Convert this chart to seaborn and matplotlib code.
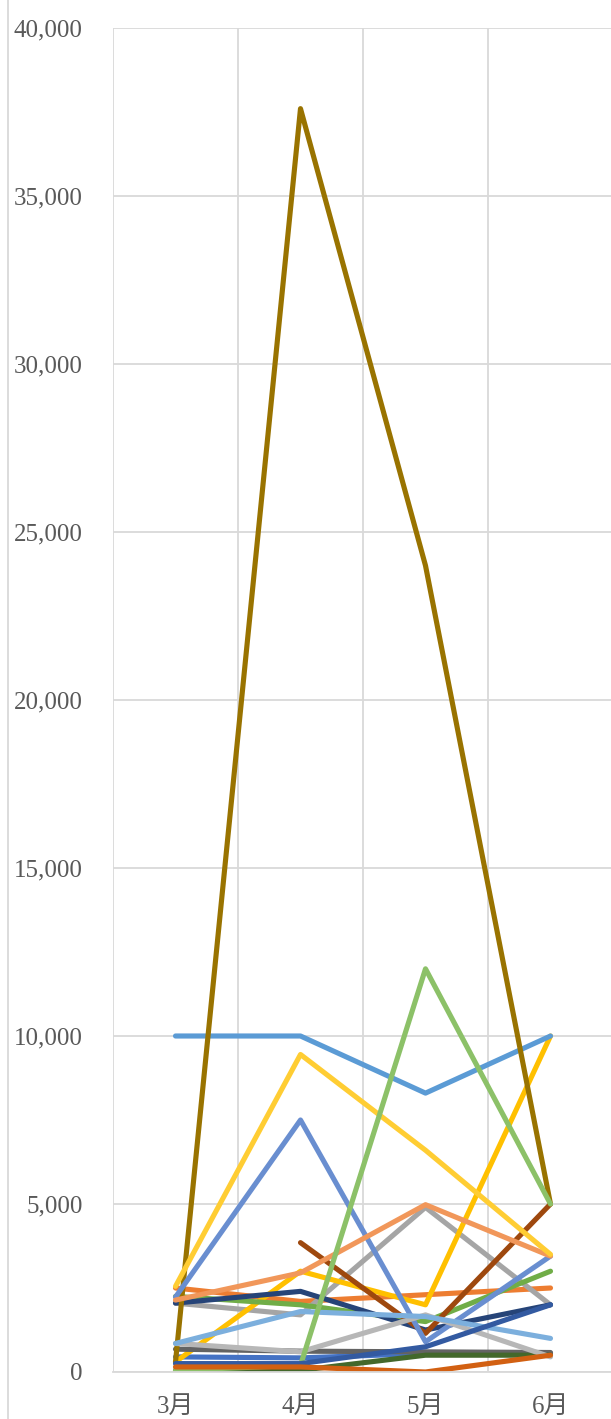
import numpy as np
import pandas as pd
import matplotlib
matplotlib.use("Agg")
import matplotlib.pyplot as plt
import seaborn as sns
from matplotlib.lines import Line2D
from matplotlib.ticker import MultipleLocator, FuncFormatter, FixedLocator

months = ["3月", "4月", "5月", "6月"]

s01 = [450, 420, 550, 550]          # #4472C4
s02 = [2500, 2100, 2300, 2500]      # #ED7D31
s03 = [2050, 1700, 4900, 2000]      # #A5A5A5
s04 = [300, 3000, 2000, 10000]      # #FFC000
s05 = [10000, 10000, 8300, 10000]   # #5B9BD5
s06 = [2250, 2000, 1500, 3000]      # #70AD47
s07 = [2050, 2400, 1250, 2000]      # #264478
s08 = [np.nan, 3850, 1150, 5000]    # #9E480E
s09 = [680, 620, 600, 580]          # #636363
s10 = [300, 37600, 24000, 5000]     # #997300
s12 = [50, 50, 500, 500]            # #43682B
s13 = [2230, 7500, 900, 3450]       # #698ED0
s14 = [2140, 2950, 4980, 3450]      # #F1975A
s15 = [850, 600, 1700, 450]         # #B7B7B7
s16 = [2550, 9450, 6600, 3500]      # #FFCD33
s17 = [850, 1800, 1650, 1000]       # #7CAFDD
s18 = [50, 200, 12000, 5000]        # #8CC168
s19 = [250, 250, 750, 2000]         # #335AA1
s20 = [150, 150, 0, 500]            # #D26012

series = {
    "s01": s01, "s02": s02, "s03": s03, "s04": s04, "s05": s05,
    "s06": s06, "s07": s07, "s08": s08, "s09": s09, "s10": s10,
    "s12": s12, "s13": s13, "s14": s14, "s15": s15, "s16": s16,
    "s17": s17, "s18": s18, "s19": s19, "s20": s20,
}
colors = {
    "s01": "#4472C4", "s02": "#ED7D31", "s03": "#A5A5A5", "s04": "#FFC000",
    "s05": "#5B9BD5", "s06": "#70AD47", "s07": "#264478", "s08": "#9E480E",
    "s09": "#636363", "s10": "#997300", "s12": "#43682B", "s13": "#698ED0",
    "s14": "#F1975A", "s15": "#B7B7B7", "s16": "#FFCD33", "s17": "#7CAFDD",
    "s18": "#8CC168", "s19": "#335AA1", "s20": "#D26012",
}

rows = []
for name, vals in series.items():
    for m, v in zip(months, vals):
        rows.append({"month": m, "value": v, "series": name})
df = pd.DataFrame(rows).dropna()

sns.set_theme(style="white")
plt.rcParams["font.family"] = ["Liberation Serif", "Noto Sans CJK JP"]

W, H = 611, 1419
fig = plt.figure(figsize=(W / 100, H / 100), dpi=100)
left, right, top, bottom = 113, 613, 28, 1372
ax = fig.add_axes([left / W, 1 - bottom / H, (right - left) / W, (bottom - top) / H])

sns.lineplot(data=df, x="month", y="value", hue="series", palette=colors,
             hue_order=list(series.keys()), sort=False, estimator=None,
             linewidth=3.7, legend=False, ax=ax)
for ln in ax.get_lines():
    ln.set_solid_capstyle("round")
    ln.set_solid_joinstyle("round")

ax.set_xlim(-0.5, 3.5)
ax.set_ylim(0, 40000)
ax.yaxis.set_major_locator(MultipleLocator(5000))
ax.yaxis.set_major_formatter(FuncFormatter(lambda v, p: f"{int(v):,}"))
ax.xaxis.set_minor_locator(FixedLocator([-0.5, 0.5, 1.5, 2.5, 3.5]))
ax.grid(True, axis="y", which="major", color="#D9D9D9", linewidth=1.3)
ax.grid(True, axis="x", which="minor", color="#D9D9D9", linewidth=1.3)
ax.grid(False, axis="x", which="major")
ax.set_axisbelow(True)
for sp in ["top", "right", "left"]:
    ax.spines[sp].set_visible(False)
ax.spines["bottom"].set_color("#D9D9D9")
ax.spines["bottom"].set_linewidth(1.3)
ax.set_xlabel("")
ax.set_ylabel("")
ax.tick_params(axis="y", length=0, pad=22, labelsize=18, labelcolor="#595959")
ax.tick_params(axis="x", which="both", length=0, pad=17, labelsize=18, labelcolor="#595959")
for lab in ax.get_xticklabels() + ax.get_yticklabels():
    lab.set_fontfamily(["Liberation Serif", "Noto Sans CJK JP"])

fig.add_artist(Line2D([8 / W, 8 / W], [0, 1], transform=fig.transFigure,
                      color="#D9D9D9", linewidth=1.3))

fig.savefig("out.png", dpi=100)
